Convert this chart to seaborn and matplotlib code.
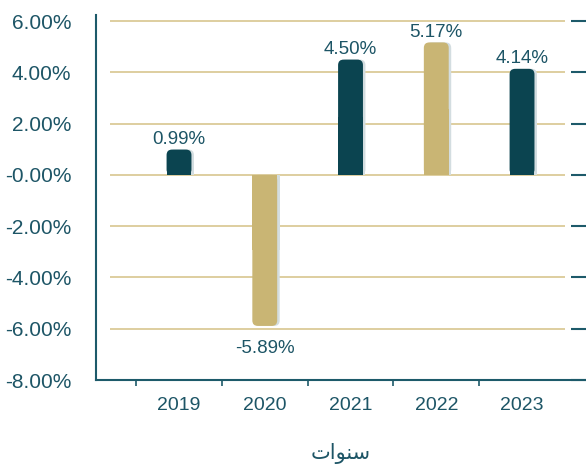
import matplotlib
matplotlib.use("Agg")
import matplotlib.pyplot as plt
import matplotlib.transforms as mtransforms
from matplotlib.patches import FancyBboxPatch, Rectangle
import seaborn as sns
import pandas as pd

# ---- data ----
years = ["2019", "2020", "2021", "2022", "2023"]
values = [0.99, -5.89, 4.50, 5.17, 4.14]
value_labels = ["0.99%", "-5.89%", "4.50%", "5.17%", "4.14%"]
bar_colors = ["#0b4450", "#c9b574", "#0b4450", "#c9b574", "#0b4450"]
y_ticks = [-8, -6, -4, -2, 0, 2, 4, 6]
y_tick_labels = ["-8.00%", "-6.00%", "-4.00%", "-2.00%", "-0.00%", "2.00%", "4.00%", "6.00%"]
grid_levels = [-6, -4, -2, 0, 2, 4, 6]
x_title = "\uFE95\uFE8D\uFEEE\uFEE8\uFEB3"  # "سنوات" pre-shaped, visual order

text_color = "#1d5566"
axis_color = "#1d5a6a"
grid_color = "#d8c68f"
shadow_color = "#d3dde0"

sns.set_theme(style="white")
plt.rcParams["font.family"] = ["Liberation Sans", "DejaVu Sans"]

fig = plt.figure(figsize=(5.86, 4.69), dpi=100)
ax = fig.add_axes([96 / 586, 89 / 469, 490 / 586, 365 / 469])

df = pd.DataFrame({"year": years, "value": values})
sns.barplot(data=df, x="year", y="value", hue="year", palette=bar_colors,
            legend=False, width=0.29, saturation=1, ax=ax, zorder=3)

ax.set_xlim(-0.968, 4.746)
ax.set_ylim(-8, 6.24)

# pixel scales for rounded corners
px_x = ax.bbox.width / (4.746 + 0.968)
px_y = ax.bbox.height / (6.24 + 8)
asp = px_x / px_y
r_px = 5.5
r = r_px / px_x

shadow_tr = mtransforms.offset_copy(ax.transData, fig=fig, x=2.5, y=0, units="dots")

for p in list(ax.patches):
    x0, w = p.get_x(), p.get_width()
    y0, h = p.get_y(), p.get_height()
    col = p.get_facecolor()
    p.set_visible(False)
    lo, hi = min(y0, y0 + h), max(y0, y0 + h)
    for tr, c, z in [(shadow_tr, shadow_color, 2.5), (ax.transData, col, 3)]:
        fb = FancyBboxPatch((x0, lo), w, hi - lo,
                            boxstyle=f"round,pad=0,rounding_size={r}",
                            mutation_aspect=asp, facecolor=c, edgecolor="none",
                            zorder=z, transform=tr)
        ax.add_patch(fb)
        ax.add_patch(Rectangle((x0, min(0, (y0 + h) / 2)), w, abs(h) / 2,
                               facecolor=c, edgecolor="none", zorder=z,
                               transform=tr))

# value labels
for i, (v, lab) in enumerate(zip(values, value_labels)):
    if v >= 0:
        ax.annotate(lab, (i, v), xytext=(0, 1), textcoords="offset points",
                    ha="center", va="bottom", fontsize=13.5, color=text_color, zorder=5)
    else:
        ax.annotate(lab, (i, v), xytext=(0, -10), textcoords="offset points",
                    ha="center", va="top", fontsize=13.5, color=text_color, zorder=5)

# gridlines and right-side ticks
ytr = ax.get_yaxis_transform()
for g in grid_levels:
    ax.plot([0.0286, 0.957], [g, g], color=grid_color, lw=1.2, transform=ytr,
            zorder=1, solid_capstyle="butt")
for g in y_ticks:
    ax.plot([0.969, 1.0], [g, g], color=axis_color, lw=1.5, transform=ytr,
            zorder=1, solid_capstyle="butt", clip_on=False)

# axes styling
ax.grid(False)
for s in ["top", "right"]:
    ax.spines[s].set_visible(False)
for s in ["left", "bottom"]:
    ax.spines[s].set_color(axis_color)
    ax.spines[s].set_linewidth(1.5)

ax.set_yticks(y_ticks, y_tick_labels)
ax.tick_params(axis="y", direction="inout", length=11.5, width=1.5,
               color=axis_color, labelsize=15, labelcolor=text_color, pad=12)
ax.set_xticks(range(len(years)), years)
ax.tick_params(axis="x", which="major", length=0, pad=12, labelsize=14,
               labelcolor=text_color)
ax.set_xticks([i - 0.5 for i in range(len(years))], minor=True)
ax.tick_params(axis="x", which="minor", direction="out", length=4.5, width=1.2,
               color=axis_color, bottom=True)

ax.set_ylabel("")
ax.set_xlabel(x_title, family=["DejaVu Sans"], fontsize=15, color=text_color,
              labelpad=21)

fig.savefig("out.png", dpi=100)
